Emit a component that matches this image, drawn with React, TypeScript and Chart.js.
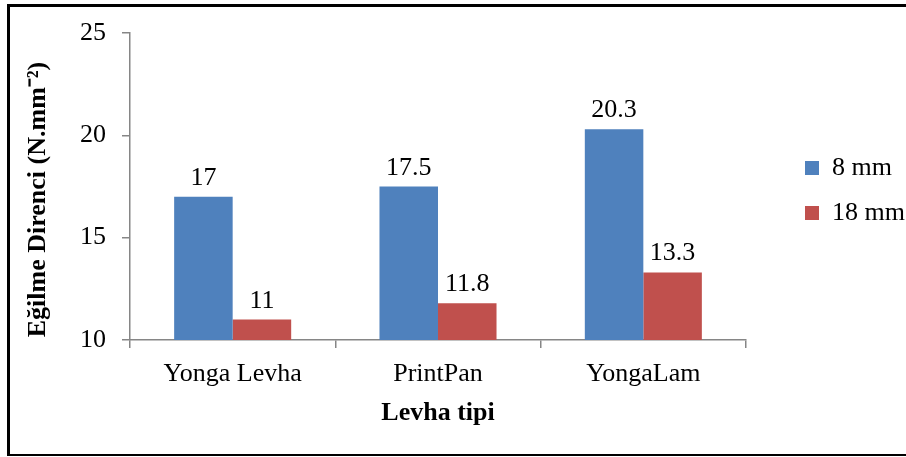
import React, { useEffect, useRef } from "react";
import { Chart, registerables } from "chart.js";

Chart.register(...registerables);

const categories = ["Yonga Levha", "PrintPan", "YongaLam"];
const seriesNames = ["8 mm", "18 mm"];
const values8mm = [17, 17.5, 20.3];
const values18mm = [11, 11.8, 13.3];
const yMin = 10;
const yMax = 25;
const yStep = 5;
const yTitle = "Eğilme Direnci (N.mm⁻²)";
const xTitle = "Levha tipi";
const seriesColors = ["#4F81BD", "#C0504D"];

const FONT = "'Liberation Serif', 'Times New Roman', serif";
const AXIS = "#868686";

const legendPlace = {
  id: "legendPlace",
  beforeLayout(chart: any) {
    const lg = chart.legend;
    if (lg && !lg.__patched) {
      const orig = lg.fit.bind(lg);
      lg.fit = function () {
        orig();
        this.width = 160;
      };
      lg.__patched = true;
    }
  },
  afterLayout(chart: any) {
    const lg = chart.legend;
    if (!lg) return;
    lg.left = 786;
    lg.right = 906;
    lg.top = 136;
    lg.bottom = 457;
    lg.width = 120;
    lg.height = 321;
  },
};

const valueLabels = {
  id: "valueLabels",
  afterDatasetsDraw(chart: any) {
    const ctx = chart.ctx;
    ctx.save();
    ctx.font = `26px ${FONT}`;
    ctx.fillStyle = "#000";
    ctx.textAlign = "center";
    ctx.textBaseline = "alphabetic";
    chart.data.datasets.forEach((ds: any, di: number) => {
      const meta = chart.getDatasetMeta(di);
      meta.data.forEach((el: any, i: number) => {
        ctx.fillText(String(ds.data[i]), el.x, el.y - 12);
      });
    });
    ctx.restore();
  },
};

export default function App() {
  const ref = useRef<HTMLCanvasElement | null>(null);

  useEffect(() => {
    if (!ref.current) return;
    const chart = new Chart(ref.current, {
      type: "bar",
      data: {
        labels: categories,
        datasets: [
          {
            label: seriesNames[0],
            data: values8mm,
            backgroundColor: seriesColors[0],
            borderWidth: 0,
            categoryPercentage: 0.57,
            barPercentage: 1.0,
          },
          {
            label: seriesNames[1],
            data: values18mm,
            backgroundColor: seriesColors[1],
            borderWidth: 0,
            categoryPercentage: 0.57,
            barPercentage: 1.0,
          },
        ],
      },
      options: {
        responsive: false,
        animation: false,
        layout: { padding: { left: 19, top: 33, right: 0, bottom: 24 } },
        plugins: {
          legend: {
            display: true,
            position: "right",
            align: "start",
            labels: {
              boxWidth: 14,
              boxHeight: 14,
              padding: 19,
              color: "#000",
              font: { family: FONT, size: 26 },
            },
          },
          tooltip: { enabled: false },
        },
        scales: {
          x: {
            grid: {
              display: true,
              drawOnChartArea: false,
              drawTicks: true,
              tickLength: 8,
              color: AXIS,
              lineWidth: 1.5,
              offset: true,
            },
            border: { display: true, color: AXIS, width: 1.5 },
            ticks: {
              color: "#000",
              padding: 11,
              font: { family: FONT, size: 26 },
              maxRotation: 0,
            },
            title: {
              display: true,
              text: xTitle,
              color: "#000",
              font: { family: FONT, size: 26, weight: "bold", lineHeight: 1.2 },
              padding: { top: 4, bottom: 4 },
            },
            afterFit: (s: any) => {
              s.height = 93;
            },
          },
          y: {
            min: yMin,
            max: yMax,
            grid: {
              display: true,
              drawOnChartArea: false,
              drawTicks: true,
              tickLength: 8,
              color: AXIS,
              lineWidth: 1.5,
            },
            border: { display: true, color: AXIS, width: 1.5 },
            ticks: {
              stepSize: yStep,
              color: "#000",
              padding: 16,
              font: { family: FONT, size: 26 },
            },
            title: {
              display: true,
              text: yTitle + "    ",
              color: "#000",
              font: { family: FONT, size: 26, weight: "bold", lineHeight: 1.2 },
              padding: { top: 4, bottom: 4 },
            },
            afterFit: (s: any) => {
              s.width = 111;
            },
          },
        },
      },
      plugins: [legendPlace, valueLabels],
    } as any);
    return () => chart.destroy();
  }, []);

  return (
    <div style={{ position: "absolute", left: 0, top: 0, width: 906, height: 457, background: "#fff", overflow: "hidden" }}>
      <canvas ref={ref} width={906} height={457} style={{ position: "absolute", left: 0, top: 0, width: 906, height: 457 }} />
      <div
        style={{
          position: "absolute",
          left: 7,
          top: 4,
          width: 1000,
          height: 452,
          boxSizing: "border-box",
          borderTop: "3px solid #000",
          borderLeft: "3px solid #000",
          borderBottom: "2px solid #000",
          pointerEvents: "none",
        }}
      />
    </div>
  );
}
